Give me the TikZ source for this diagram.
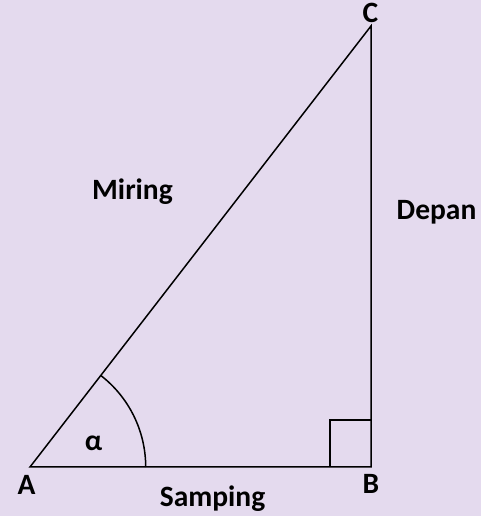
\documentclass[tikz,border=0pt]{standalone}
\usepackage{fontspec}
\setmainfont{Carlito}
\usepackage{tikz}
\usetikzlibrary{positioning,calc}
\definecolor{lavender}{RGB}{228,218,238}

\begin{document}
\begin{tikzpicture}[x=1pt, y=1pt,
  side/.style={line width=1.5pt, line join=miter},
  lbl/.style={anchor=base, inner sep=0pt, font=\fontsize{29.5}{32}\selectfont\bfseries}
]
  % Background
  \fill[lavender] (0,0) rectangle (481,516);
  \useasboundingbox (0,0) rectangle (481,516);

  % Vertices
  \coordinate (A) at (30,49);
  \coordinate (B) at (371,49);
  \coordinate (C) at (371,490);

  % Triangle
  \draw[side] (A) -- (B) -- (C) -- cycle;
  \draw[side] ($(B)+(-41,0)$) |- ($(B)+(0,47)$);
  \draw[side] ([shift={(0:115.7pt)}]A) arc[start angle=0, end angle=52.3, radius=115.7pt];

  % Labels
  \node[lbl] (lA) at (26.5,21) {A};
  \node[lbl] (lB) at (371,22) {B};
  \node[lbl] (lC) at (370.5,493) {C};
  \node[lbl] (alpha) at (93.5,65) {α};
  \node[lbl] (miring) at (132.5,316) {Miring};
  \node[lbl] (depan) at (436.5,296) {Depan};
  \node[lbl] (samping) at (212.5,9.5) {Samping};
\end{tikzpicture}
\end{document}
